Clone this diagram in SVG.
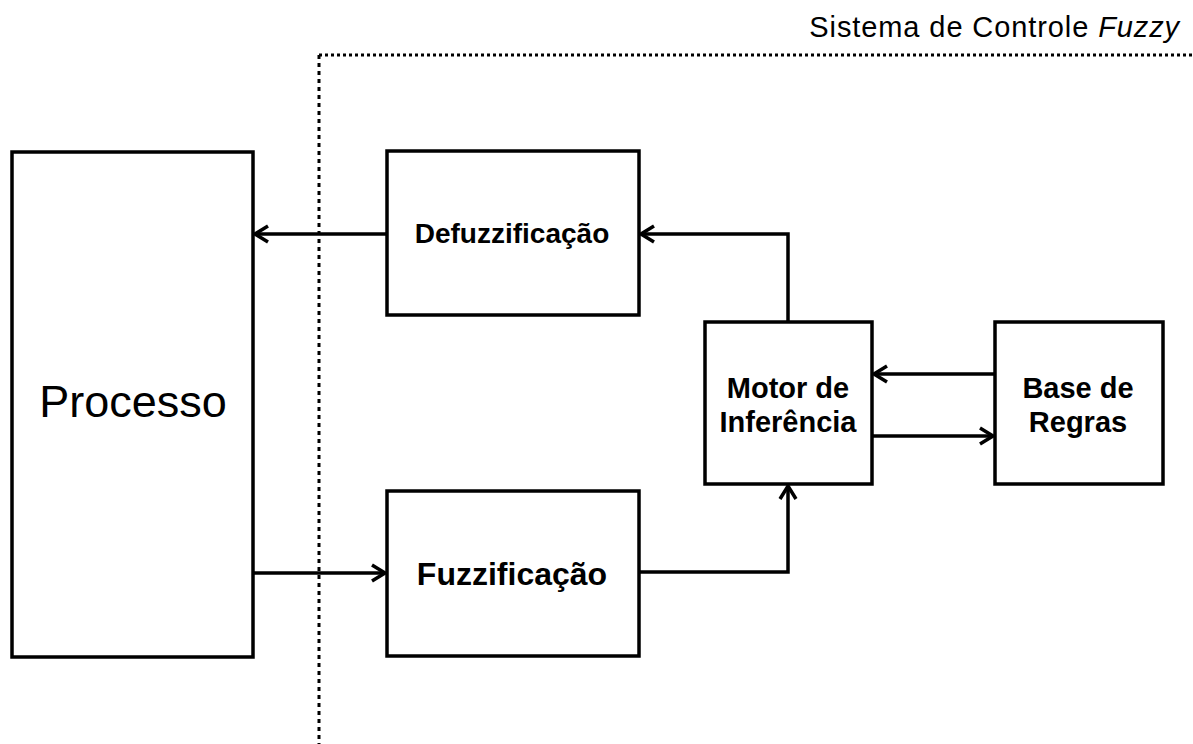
<svg xmlns="http://www.w3.org/2000/svg" width="1193" height="744" viewBox="0 0 1193 744">
<style>
.box{fill:#fff;stroke:#000;stroke-width:3.5}
.lbl{font-family:"Liberation Sans",Arial,sans-serif;fill:#000;text-anchor:middle}
.b{font-weight:bold}
.con{fill:none;stroke:#000;stroke-width:3.5}
.dot{fill:none;stroke:#000;stroke-width:3}
</style>
<defs>
<marker id="arr" viewBox="0 0 20 20" refX="17" refY="10" markerWidth="20" markerHeight="20" markerUnits="userSpaceOnUse" orient="auto">
<path d="M4,2 L17,10 L4,18" fill="none" stroke="#000" stroke-width="3.5"/>
</marker>
</defs>
<rect width="1193" height="744" fill="#fff"/>
<g id="boundary">
<path class="dot" d="M319,55 H1193" stroke-dasharray="3 3"/>
<path class="dot" d="M319,55 V744" stroke-dasharray="4 4"/>
<text class="lbl" x="1180" y="37" font-size="29" letter-spacing="0.9" style="text-anchor:end">Sistema de Controle <tspan font-style="italic">Fuzzy</tspan></text>
</g>
<g id="processo">
<rect class="box" x="12" y="152" width="241" height="505"/>
<text class="lbl" x="133" y="417" font-size="45">Processo</text>
</g>
<g id="defuzzificacao">
<rect class="box" x="387" y="151" width="252" height="164"/>
<text class="lbl b" x="512" y="243" font-size="28">Defuzzificação</text>
</g>
<g id="fuzzificacao">
<rect class="box" x="387" y="491" width="252" height="165"/>
<text class="lbl b" x="512" y="585" font-size="32">Fuzzificação</text>
</g>
<g id="motor">
<rect class="box" x="705" y="322" width="167" height="162"/>
<text class="lbl b" x="788" y="398" font-size="29">Motor de</text>
<text class="lbl b" x="788" y="432" font-size="29">Inferência</text>
</g>
<g id="base">
<rect class="box" x="995" y="322" width="168" height="162"/>
<text class="lbl b" x="1078" y="398" font-size="29">Base de</text>
<text class="lbl b" x="1078" y="432" font-size="29">Regras</text>
</g>
<g id="connectors">
<path class="con" d="M387,234 H255" marker-end="url(#arr)"/>
<path class="con" d="M253,573 H385" marker-end="url(#arr)"/>
<path class="con" d="M788,322 V234 H641" marker-end="url(#arr)"/>
<path class="con" d="M639,572 H788 V486" marker-end="url(#arr)"/>
<path class="con" d="M995,374 H874" marker-end="url(#arr)"/>
<path class="con" d="M872,436 H993" marker-end="url(#arr)"/>
</g>
</svg>
